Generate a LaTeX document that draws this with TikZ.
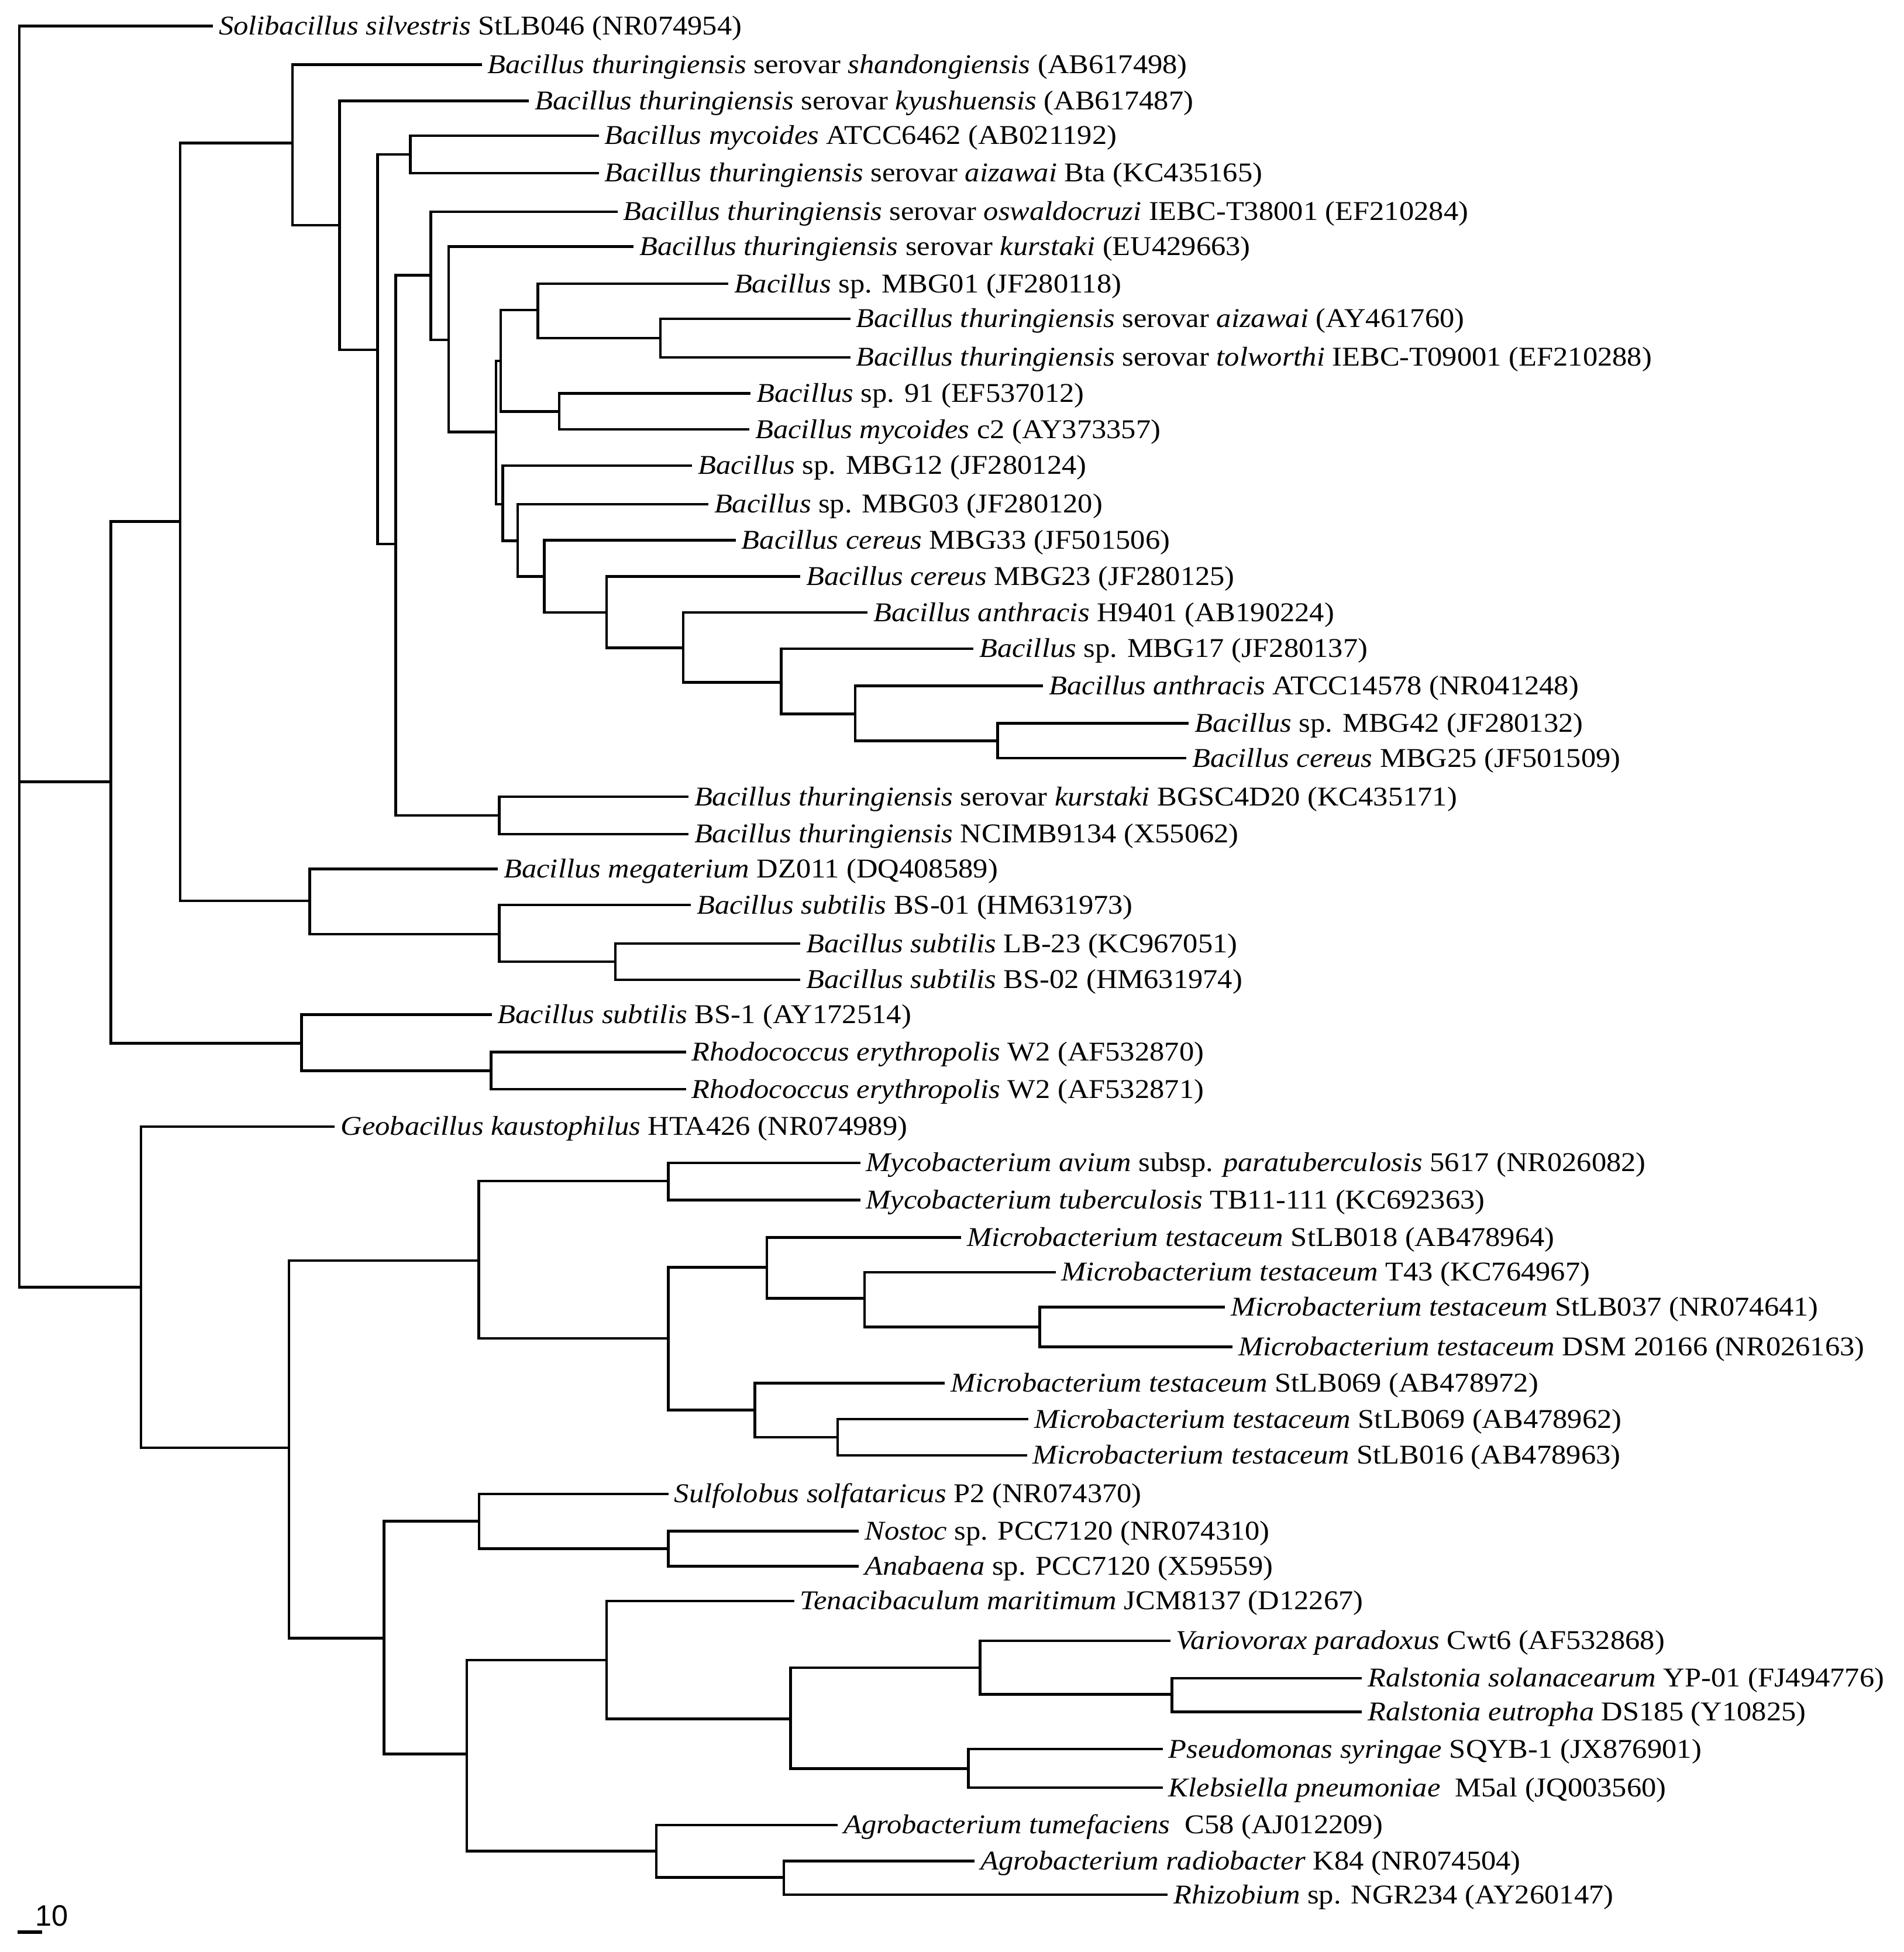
\documentclass[tikz,border=0pt]{standalone}
\usepackage{fontspec}
\setmainfont{Liberation Serif}[FakeStretch=1.09]
\newfontfamily\skalafont{Liberation Sans}

\tikzset{
    ast/.style={line width=1.2pt},
    blatt/.style={anchor=base west, inner sep=0pt, xshift=2.5pt, yshift=-4pt,
                  font=\fontsize{12.4}{14}\selectfont},
}

\begin{document}
\begin{tikzpicture}[x=0.02cm, y=-0.02cm]
    \useasboundingbox (0,0) rectangle (1529,1568);

    % Blaetter (Spitze und Beschriftung)
    \foreach \i/\x/\y/\txt in {
        1/171/21/{\textit{Solibacillus silvestris} StLB046 (NR074954)},
        2/387/52/{\textit{Bacillus thuringiensis} serovar \textit{shandongiensis} (AB617498)},
        3/425/81/{\textit{Bacillus thuringiensis} serovar \textit{kyushuensis} (AB617487)},
        4/481/109/{\textit{Bacillus mycoides} ATCC6462 (AB021192)},
        5/481/139/{\textit{Bacillus thuringiensis} serovar \textit{aizawai} Bta (KC435165)},
        6/496/170/{\textit{Bacillus thuringiensis} serovar \textit{oswaldocruzi} IEBC-T38001 (EF210284)},
        7/509/198/{\textit{Bacillus thuringiensis} serovar \textit{kurstaki} (EU429663)},
        8/585/228/{\textit{Bacillus} sp. MBG01 (JF280118)},
        9/683/256/{\textit{Bacillus thuringiensis} serovar \textit{aizawai} (AY461760)},
        10/683/287/{\textit{Bacillus thuringiensis} serovar \textit{tolworthi} IEBC-T09001 (EF210288)},
        11/603/316/{\textit{Bacillus} sp. 91 (EF537012)},
        12/602/345/{\textit{Bacillus mycoides} c2 (AY373357)},
        13/556/374/{\textit{Bacillus} sp. MBG12 (JF280124)},
        14/569/405/{\textit{Bacillus} sp. MBG03 (JF280120)},
        15/591/434/{\textit{Bacillus cereus} MBG33 (JF501506)},
        16/643/463/{\textit{Bacillus cereus} MBG23 (JF280125)},
        17/697/492/{\textit{Bacillus anthracis} H9401 (AB190224)},
        18/782/521/{\textit{Bacillus} sp. MBG17 (JF280137)},
        19/838/551/{\textit{Bacillus anthracis} ATCC14578 (NR041248)},
        20/955/581/{\textit{Bacillus} sp. MBG42 (JF280132)},
        21/953/609/{\textit{Bacillus cereus} MBG25 (JF501509)},
        22/553/640/{\textit{Bacillus thuringiensis} serovar \textit{kurstaki} BGSC4D20 (KC435171)},
        23/553/670/{\textit{Bacillus thuringiensis} NCIMB9134 (X55062)},
        24/400/698/{\textit{Bacillus megaterium} DZ011 (DQ408589)},
        25/555/727/{\textit{Bacillus subtilis} BS-01 (HM631973)},
        26/643/758/{\textit{Bacillus subtilis} LB-23 (KC967051)},
        27/643/787/{\textit{Bacillus subtilis} BS-02 (HM631974)},
        28/395/815/{\textit{Bacillus subtilis} BS-1 (AY172514)},
        29/551/845/{\textit{Rhodococcus erythropolis} W2 (AF532870)},
        30/551/875/{\textit{Rhodococcus erythropolis} W2 (AF532871)},
        31/269/905/{\textit{Geobacillus kaustophilus} HTA426 (NR074989)},
        32/691/934/{\textit{Mycobacterium avium} subsp. \textit{paratuberculosis} 5617 (NR026082)},
        33/691/964/{\textit{Mycobacterium tuberculosis} TB11-111 (KC692363)},
        34/772/994/{\textit{Microbacterium testaceum} StLB018 (AB478964)},
        35/848/1022/{\textit{Microbacterium testaceum} T43 (KC764967)},
        36/984/1050/{\textit{Microbacterium testaceum} StLB037 (NR074641)},
        37/990/1082/{\textit{Microbacterium testaceum} DSM 20166 (NR026163)},
        38/759/1111/{\textit{Microbacterium testaceum} StLB069 (AB478972)},
        39/826/1140/{\textit{Microbacterium testaceum} StLB069 (AB478962)},
        40/825/1169/{\textit{Microbacterium testaceum} StLB016 (AB478963)},
        41/537/1200/{\textit{Sulfolobus solfataricus} P2 (NR074370)},
        42/690/1230/{\textit{Nostoc} sp. PCC7120 (NR074310)},
        43/690/1258/{\textit{Anabaena} sp. PCC7120 (X59559)},
        44/638/1286/{\textit{Tenacibaculum maritimum} JCM8137 (D12267)},
        45/940/1318/{\textit{Variovorax paradoxus} Cwt6 (AF532868)},
        46/1094/1348/{\textit{Ralstonia solanacearum} YP-01 (FJ494776)},
        47/1094/1375/{\textit{Ralstonia eutropha} DS185 (Y10825)},
        48/934/1405/{\textit{Pseudomonas syringae} SQYB-1 (JX876901)},
        49/934/1436/{\textit{Klebsiella pneumoniae}\ \ M5al (JQ003560)},
        50/673/1466/{\textit{Agrobacterium tumefaciens}\ \ C58 (AJ012209)},
        51/783/1495/{\textit{Agrobacterium radiobacter} K84 (NR074504)},
        52/938/1522/{\textit{Rhizobium} sp. NGR234 (AY260147)}} {
        \coordinate (t\i) at (\x,\y);
        \node[blatt] (l\i) at (t\i) {\txt};
    }

    % innere Knoten
    \foreach \n/\x/\y in {
        r/15.6/628, n89/89/628, n145/144.8/419, n235/235/115, n273/272.7/181,
        n303/303.3/281, n330/329.7/124, n318/317.8/437, n346/346/221,
        n360/360.4/273, nA/398.5/347, nB/402.1/290, n432/432.1/249,
        n530/530.4/271.7, n449/449.3/330.6, nC/403.8/405, nD/415.8/434.4,
        nE/437.3/463, nF/487.2/492, nG/548.9/520.5, nH/627.5/548,
        nI/687/573.5, nJ/801.3/595, n401/401/655, n249/248.8/723.5,
        n401b/401/750.5, n494/494.2/772.5, n242/242.2/838, n395/394.5/860,
        n113/113.3/1034, n232/232.2/1163, n385/384.7/1012.7,
        n537a/536.9/948.7, n537b/536.9/1075, n616/616/1018, n694/694.4/1043,
        n835/835.1/1066, n606/606.3/1132.6, n673/672.9/1154.6,
        n308/308.5/1316, n385b/384.8/1222, n537c/536.9/1244, n375/375/1409,
        n487/487.3/1333.5, n635/635.1/1380.7, n787/787.2/1339.5,
        n941/941.5/1361, n778/777.8/1420.6, n527/527.2/1487, n630/629.7/1508} {
        \coordinate (\n) at (\x,\y);
    }

    % Aeste
    \foreach \p/\c in {
        r/t1, r/n89, r/n113, n89/n145, n89/n242, n145/n235, n145/n249,
        n235/t2, n235/n273, n273/t3, n273/n303, n303/n330, n303/n318,
        n330/t4, n330/t5, n318/n346, n318/n401, n346/t6, n346/n360,
        n360/t7, n360/nA, nA/nB, nA/nC, nB/n432, nB/n449, n432/t8,
        n432/n530, n530/t9, n530/t10, n449/t11, n449/t12, nC/t13, nC/nD,
        nD/t14, nD/nE, nE/t15, nE/nF, nF/t16, nF/nG, nG/t17, nG/nH,
        nH/t18, nH/nI, nI/t19, nI/nJ, nJ/t20, nJ/t21, n401/t22, n401/t23,
        n249/t24, n249/n401b, n401b/t25, n401b/n494, n494/t26, n494/t27,
        n242/t28, n242/n395, n395/t29, n395/t30,
        n113/t31, n113/n232, n232/n385, n232/n308, n385/n537a, n385/n537b,
        n537a/t32, n537a/t33, n537b/n616, n537b/n606, n616/t34, n616/n694,
        n694/t35, n694/n835, n835/t36, n835/t37, n606/t38, n606/n673,
        n673/t39, n673/t40, n308/n385b, n308/n375, n385b/t41, n385b/n537c,
        n537c/t42, n537c/t43, n375/n487, n375/n527, n487/t44, n487/n635,
        n635/n787, n635/n778, n787/t45, n787/n941, n941/t46, n941/t47,
        n778/t48, n778/t49, n527/t50, n527/n630, n630/t51, n630/t52} {
        \draw[ast] (\p) |- (\c);
    }

    % Massstab
    \coordinate (sk1) at (14,1552);
    \coordinate (sk2) at (34,1552);
    \draw[line width=1.6pt] (sk1) -- (sk2);
    \node[anchor=base west, inner sep=0pt, font=\skalafont\fontsize{13.5}{15}\selectfont] (skl) at (28,1547) {10};
\end{tikzpicture}
\end{document}
